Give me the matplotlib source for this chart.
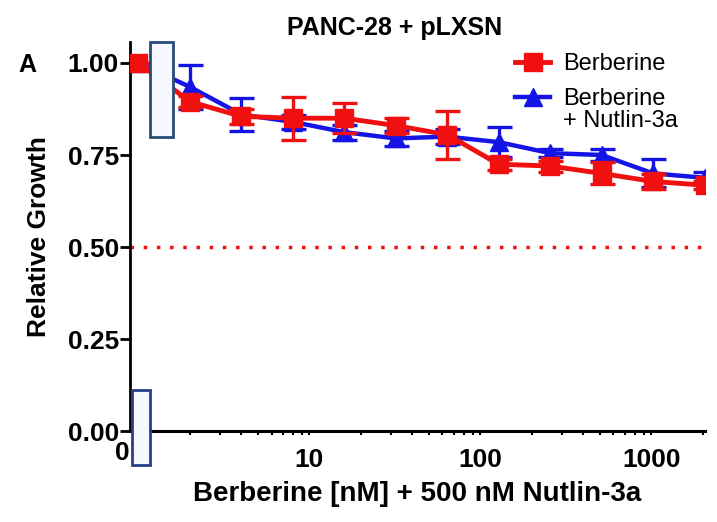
import numpy as np
import matplotlib
matplotlib.use("Agg")
import matplotlib.pyplot as plt
from matplotlib.patches import Rectangle
from matplotlib.lines import Line2D
from matplotlib.ticker import FixedLocator, NullFormatter

plt.rcParams['font.family'] = ['Liberation Sans', 'DejaVu Sans']

# 농도 (nM), 0 은 로그축에서 1 위치에 그림
conc = [0, 2, 4, 8, 16, 32, 64, 128, 256, 512, 1024, 2048]

berb_mean = [1.00, 0.895, 0.855, 0.850, 0.850, 0.830, 0.805, 0.725, 0.720, 0.700, 0.678, 0.668]
berb_err = [0.0, 0.015, 0.02, 0.058, 0.04, 0.02, 0.065, 0.015, 0.015, 0.03, 0.02, 0.01]

nut_mean = [1.00, 0.935, 0.860, 0.840, 0.812, 0.795, 0.800, 0.785, 0.755, 0.750, 0.700, 0.688]
nut_err = [0.0, 0.06, 0.045, 0.02, 0.02, 0.02, 0.02, 0.04, 0.01, 0.015, 0.038, 0.015]

xpos = np.where(np.array(conc) == 0, 1, conc)

fig = plt.figure(figsize=(7.17, 5.22), dpi=100)
ax = fig.add_axes([0.1813, 0.1743, 0.802, 0.7452])

red = '#f01010'
blue = '#1414e6'

ax.axhline(0.5, color=red, lw=2.5, dashes=(1, 2.8), zorder=1)

ax.errorbar(xpos, nut_mean, yerr=nut_err, color=blue, lw=3.2, marker='^', ms=13,
            capsize=9, elinewidth=2.4, capthick=2.4, zorder=3)
ax.errorbar(xpos, berb_mean, yerr=berb_err, color=red, lw=3.5, marker='s', ms=13,
            capsize=9, elinewidth=2.4, capthick=2.4, zorder=4)

ax.set_xscale('log')
ax.set_xlim(0.892, 2060)
ax.set_ylim(0, 1.057)

ax.spines['top'].set_visible(False)
ax.spines['right'].set_visible(False)
ax.spines['left'].set_linewidth(2)
ax.spines['bottom'].set_linewidth(2.2)

ax.set_yticks([0, 0.25, 0.5, 0.75, 1.0])
ax.set_yticklabels(['0.00', '0.25', '0.50', '0.75', '1.00'])
ax.tick_params(axis='y', length=7, width=2, pad=1, labelsize=19)
for t in ax.get_yticklabels():
    t.set_fontweight('bold')

ax.set_xticks([10, 100, 1000])
ax.set_xticklabels(['10', '100', '1000'])
minors = [m * 10 ** e for e in range(0, 4) for m in range(2, 10) if 2 <= m * 10 ** e <= 2000]
ax.xaxis.set_minor_locator(FixedLocator(minors))
ax.xaxis.set_minor_formatter(NullFormatter())
ax.tick_params(axis='x', which='both', length=3, width=1.5, pad=9, labelsize=19)
for t in ax.get_xticklabels():
    t.set_fontweight('bold')

ax.text(0.80, -0.06, '0', fontsize=19, fontweight='bold', ha='center', va='center', clip_on=False)

# 축 끊김 표시
ax.add_patch(Rectangle((1.167, 0.799), 1.588 - 1.167, 1.057 - 0.799, transform=ax.transData,
                       facecolor='#f6f9ff', edgecolor='#2a4a7a', lw=2, clip_on=False, zorder=10))
ax.add_patch(Rectangle((0.917, -0.092), 1.17 - 0.917, 0.111 + 0.092, transform=ax.transData,
                       facecolor='#f6f9ff', edgecolor='#2a3f8a', lw=2, clip_on=False, zorder=10))

ax.set_xlabel('Berberine [nM] + 500 nM Nutlin-3a', fontsize=20, fontweight='bold', labelpad=7)
ax.set_ylabel('Relative Growth', fontsize=19, fontweight='bold', labelpad=12)

fig.text(395 / 717, 1 - 28 / 522, 'PANC-28 + pLXSN', fontsize=18, fontweight='bold', ha='center', va='center')
fig.text(27 / 717, 1 - 65 / 522, 'A', fontsize=18, fontweight='bold', ha='center', va='center')

# 범례
h_berb = Line2D([], [], color=red, lw=3.5, marker='s', ms=13)
h_nut = Line2D([], [], color=blue, lw=3.2, marker='^', ms=13)
ax.legend([h_berb, h_nut], ['Berberine', 'Berberine'], loc='upper left',
          bbox_to_anchor=(0.653, 0.995), frameon=False, fontsize=17, handlelength=1.5,
          handletextpad=0.55, labelspacing=0.55, borderaxespad=0)
fig.text(563 / 717, 1 - 121 / 522, '+ Nutlin-3a', fontsize=17, ha='left', va='center')

fig.savefig('out.png', dpi=100)
